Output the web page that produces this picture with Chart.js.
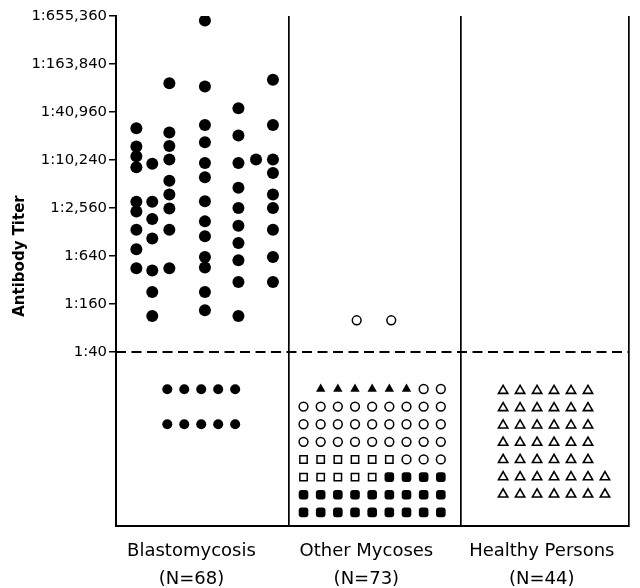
<!DOCTYPE html>
<html>
<head>
<meta charset="utf-8">
<script src="https://cdn.jsdelivr.net/npm/chart.js@4/dist/chart.umd.min.js"></script>
<style>
  html, body { margin: 0; padding: 0; background: #fff; }
  #wrap { width: 640px; height: 588px; }
</style>
</head>
<body>
<div id="wrap"><canvas id="titerChart"></canvas></div>
<script>
// titer tick labels (reciprocal of dilution)
const titerTicks = [40, 160, 640, 2560, 10240, 40960, 163840, 655360]
const cutoffTiter = 40

const groupNames = ['Blastomycosis', 'Other Mycoses', 'Healthy Persons']
const groupN = [68, 73, 44]

// blastomycosis sera above 1:40, one list per plotted column
const blastoTiters = [
  [25600, 15100, 11400, 8300, 3070, 2320, 1370, 780, 450],
  [9160, 3070, 1860, 1060, 420, 226, 113],
  [94100, 22600, 15300, 10400, 5640, 3770, 2520, 1370, 450],
  [575000, 85400, 28200, 17100, 9420, 6220, 3110, 1740, 1130, 620, 460, 226, 134],
  [45800, 20800, 9420, 4580, 2560, 1530, 930, 565, 303, 113],
  [10400],
  [104000, 28200, 10400, 7040, 3770, 2560, 1370, 620, 303],
]
// other mycoses above 1:40
const otherTiters = [100, 100]

// sera below 1:40, shown as rows of symbols
// ▲ / ○ / □ / ■ = different mycoses, △ = healthy persons
const blastoNegRows = ['●●●●●', '●●●●●']
const otherNegRows = [
  ' ▲▲▲▲▲▲○○',
  '○○○○○○○○○',
  '○○○○○○○○○',
  '○○○○○○○○○',
  '□□□□□□○○○',
  '□□□□□■■■■',
  '■■■■■■■■■',
  '■■■■■■■■■',
]
const healthyNegRows = [
  '△△△△△△',
  '△△△△△△',
  '△△△△△△',
  '△△△△△△',
  '△△△△△△',
  '△△△△△△△',
  '△△△△△△△',
]

// layout
const xMax = 2.971
const yMin = -3.625
const yMax = 7
const panelEdges = [1, 2]
const labelX = [0.437, 1.45, 2.466]
const blastoColumnX = [0.118, 0.21, 0.309, 0.515, 0.709, 0.811, 0.909]
const otherX = [1.394, 1.594]

const toExp = (t) => Math.log(t / cutoffTiter) / Math.log(4)

const symbolStyles = {
  '●': { pointStyle: 'circle', pointRadius: 5, backgroundColor: '#000', borderColor: '#000', borderWidth: 0 },
  '▲': { pointStyle: 'triangle', pointRadius: 5.4, backgroundColor: '#000', borderColor: '#000', borderWidth: 0 },
  '○': { pointStyle: 'circle', pointRadius: 4.4, backgroundColor: '#fff', borderColor: '#000', borderWidth: 1.5 },
  '□': { pointStyle: 'rect', pointRadius: 5.2, backgroundColor: '#fff', borderColor: '#000', borderWidth: 1.5 },
  '■': { pointStyle: 'rectRounded', pointRadius: 5.6, backgroundColor: '#000', borderColor: '#000', borderWidth: 0 },
  '△': { pointStyle: 'triangle', pointRadius: 5.4, backgroundColor: '#fff', borderColor: '#000', borderWidth: 1.6 },
}

function gridDatasets(rows, x0, dx, y0, dy) {
  const bySymbol = {}
  rows.forEach((row, j) => {
    Array.from(row).forEach((sym, i) => {
      if (!symbolStyles[sym]) return
      if (!bySymbol[sym]) bySymbol[sym] = []
      bySymbol[sym].push({ x: x0 + i * dx, y: y0 + j * dy })
    })
  })
  return Object.keys(bySymbol).map((sym) => ({
    type: 'scatter',
    data: bySymbol[sym],
    ...symbolStyles[sym],
  }))
}

const blastoPoints = []
blastoTiters.forEach((col, i) => {
  col.forEach((t) => blastoPoints.push({ x: blastoColumnX[i], y: toExp(t) }))
})

const datasets = [
  {
    type: 'line',
    data: [{ x: 0, y: toExp(cutoffTiter) }, { x: xMax, y: toExp(cutoffTiter) }],
    borderColor: '#000',
    borderWidth: 2,
    borderDash: [10, 5.5],
    pointRadius: 0,
    fill: false,
  },
  {
    type: 'scatter',
    data: blastoPoints,
    pointStyle: 'circle',
    pointRadius: 6,
    backgroundColor: '#000',
    borderWidth: 0,
  },
  {
    type: 'scatter',
    data: otherTiters.map((t, i) => ({ x: otherX[i], y: toExp(t) })),
    ...symbolStyles['○'],
  },
  ...gridDatasets(blastoNegRows, 0.297, 0.0983, -0.777, -0.729),
  ...gridDatasets(otherNegRows, 1.086, 0.0994, -0.771, -0.367),
  ...gridDatasets(healthyNegRows, 2.242, 0.0983, -0.806, -0.36),
]

const yTitle = {
  id: 'yTitle',
  afterDraw(chart) {
    const ctx = chart.ctx
    ctx.save()
    ctx.translate(20, 256)
    ctx.rotate(-Math.PI / 2)
    ctx.font = 'bold 15px "DejaVu Sans"'
    ctx.fillStyle = '#000'
    ctx.textAlign = 'center'
    ctx.textBaseline = 'middle'
    ctx.fillText('Antibody Titer', 0, 0)
    ctx.restore()
  },
}

new Chart(document.getElementById('titerChart'), {
  data: { datasets },
  options: {
    responsive: true,
    maintainAspectRatio: false,
    animation: false,
    events: [],
    layout: { padding: { top: 16, right: 4, left: 0, bottom: 0 } },
    plugins: { legend: { display: false }, tooltip: { enabled: false } },
    scales: {
      x: {
        type: 'linear',
        min: 0,
        max: xMax,
        afterBuildTicks: (scale) => {
          const vals = [0, ...panelEdges, xMax, ...labelX].sort((a, b) => a - b)
          scale.ticks = vals.map((v) => ({ value: v }))
        },
        afterFit: (scale) => { scale.height = 62 },
        ticks: {
          autoSkip: false,
          maxRotation: 0,
          padding: 11,
          color: '#000',
          font: { family: 'DejaVu Sans', size: 18, lineHeight: 1.55 },
          callback: (value) => {
            const g = labelX.indexOf(value)
            return g >= 0 ? [groupNames[g], '(N=' + groupN[g] + ')'] : ''
          },
        },
        grid: {
          drawTicks: false,
          lineWidth: 1.7,
          color: (ctx) => {
            const v = ctx.tick ? ctx.tick.value : null
            return panelEdges.includes(v) || v === xMax ? '#000' : 'rgba(0,0,0,0)'
          },
        },
        border: { display: true, color: '#000', width: 2 },
      },
      y: {
        type: 'linear',
        min: yMin,
        max: yMax,
        afterBuildTicks: (scale) => {
          scale.ticks = titerTicks.map((t) => ({ value: toExp(t) }))
        },
        afterFit: (scale) => { scale.width = 116 },
        ticks: {
          padding: 2,
          color: '#000',
          font: { family: 'DejaVu Sans', size: 14.8 },
          callback: (value) => '1:' + Math.round(cutoffTiter * Math.pow(4, value)).toLocaleString('en-US'),
        },
        grid: {
          drawOnChartArea: false,
          drawTicks: true,
          tickLength: 7,
          color: '#000',
          lineWidth: 1.5,
        },
        border: { display: true, color: '#000', width: 2 },
      },
    },
  },
  plugins: [yTitle],
})
</script>
</body>
</html>
